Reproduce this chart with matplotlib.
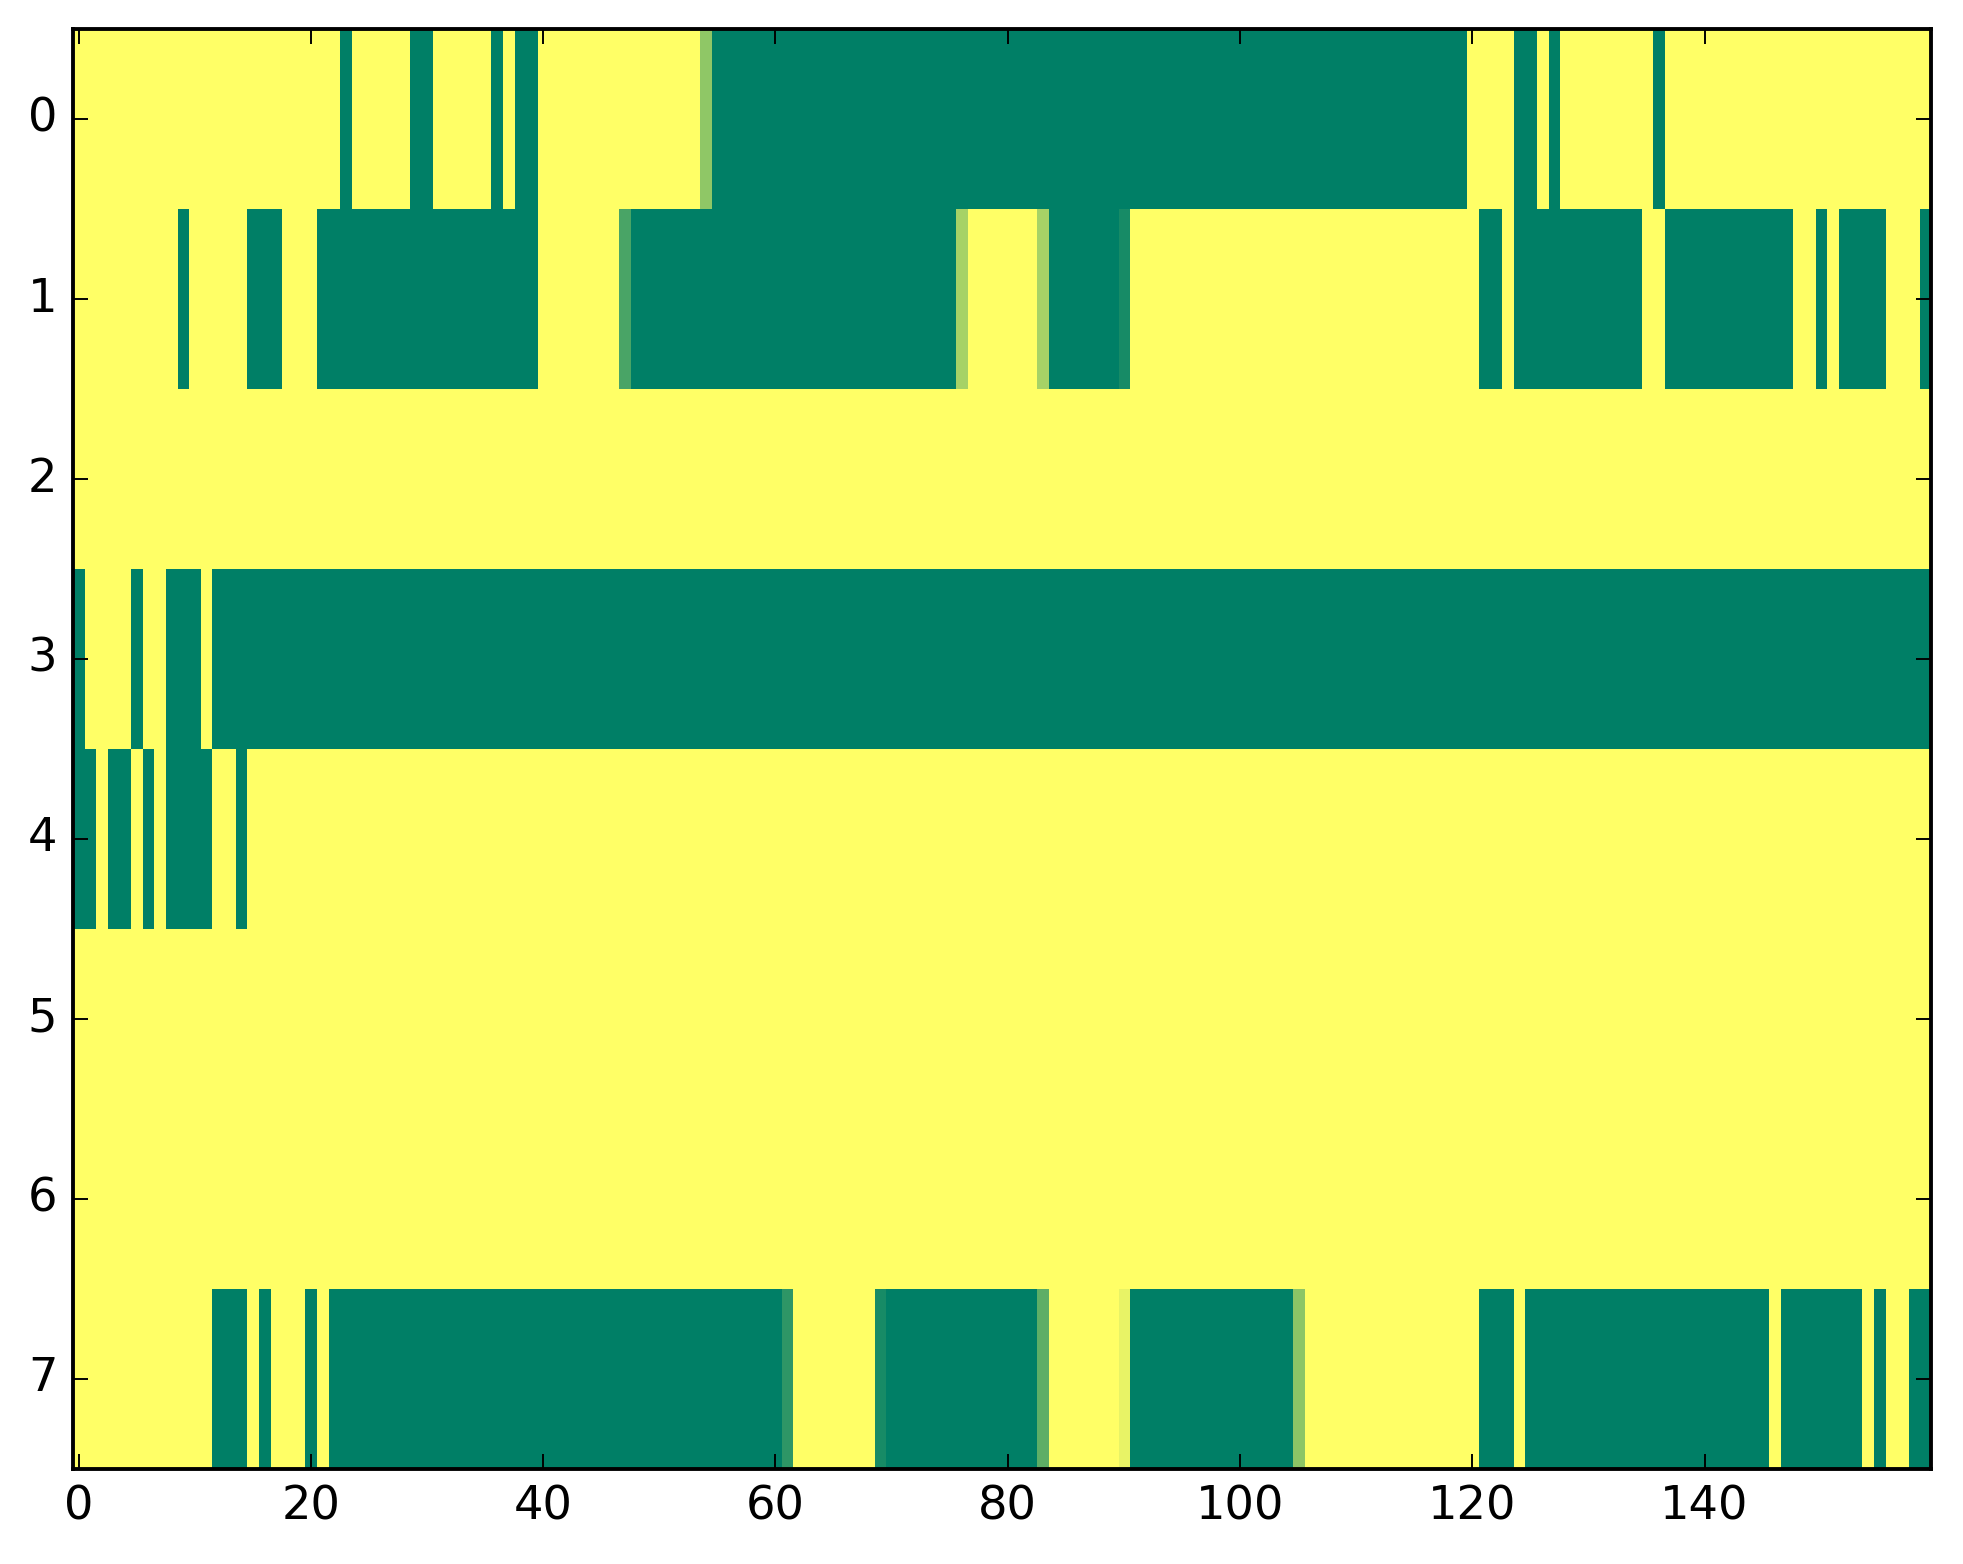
import matplotlib
matplotlib.use('Agg')
import matplotlib.pyplot as plt
import numpy as np

# one list per row, 160 cells each (1 = yellow, 0 = green)
row0 = [1, 1, 1, 1, 1, 1, 1, 1, 1, 1, 1, 1, 1, 1, 1, 1, 1, 1, 1, 1,
        1, 1, 1, 0, 1, 1, 1, 1, 1, 0, 0, 1, 1, 1, 1, 1, 0, 1, 0, 0,
        1, 1, 1, 1, 1, 1, 1, 1, 1, 1, 1, 1, 1, 1, 0.56, 0, 0, 0, 0, 0,
        0, 0, 0, 0, 0, 0, 0, 0, 0, 0, 0, 0, 0, 0, 0, 0, 0, 0, 0, 0,
        0, 0, 0, 0, 0, 0, 0, 0, 0, 0, 0, 0, 0, 0, 0, 0, 0, 0, 0, 0,
        0, 0, 0, 0, 0, 0, 0, 0, 0, 0, 0, 0, 0, 0, 0, 0, 0, 0, 0, 0,
        1, 1, 1, 1, 0, 0, 1, 0, 1, 1, 1, 1, 1, 1, 1, 1, 0, 1, 1, 1,
        1, 1, 1, 1, 1, 1, 1, 1, 1, 1, 1, 1, 1, 1, 1, 1, 1, 1, 1, 1]

row1 = [1, 1, 1, 1, 1, 1, 1, 1, 1, 0, 1, 1, 1, 1, 1, 0, 0, 0, 1, 1,
        1, 0, 0, 0, 0, 0, 0, 0, 0, 0, 0, 0, 0, 0, 0, 0, 0, 0, 0, 0,
        1, 1, 1, 1, 1, 1, 1, 0.29, 0, 0, 0, 0, 0, 0, 0, 0, 0, 0, 0, 0,
        0, 0, 0, 0, 0, 0, 0, 0, 0, 0, 0, 0, 0, 0, 0, 0, 0.65, 1, 1, 1,
        1, 1, 1, 0.65, 0, 0, 0, 0, 0, 0, 0.09, 1, 1, 1, 1, 1, 1, 1, 1, 1,
        1, 1, 1, 1, 1, 1, 1, 1, 1, 1, 1, 1, 1, 1, 1, 1, 1, 1, 1, 1,
        1, 0, 0, 1, 0, 0, 0, 0, 0, 0, 0, 0, 0, 0, 0, 1, 1, 0, 0, 0,
        0, 0, 0, 0, 0, 0, 0, 0, 1, 1, 0, 1, 0, 0, 0, 0, 1, 1, 1, 0]

row2 = [1, 1, 1, 1, 1, 1, 1, 1, 1, 1, 1, 1, 1, 1, 1, 1, 1, 1, 1, 1,
        1, 1, 1, 1, 1, 1, 1, 1, 1, 1, 1, 1, 1, 1, 1, 1, 1, 1, 1, 1,
        1, 1, 1, 1, 1, 1, 1, 1, 1, 1, 1, 1, 1, 1, 1, 1, 1, 1, 1, 1,
        1, 1, 1, 1, 1, 1, 1, 1, 1, 1, 1, 1, 1, 1, 1, 1, 1, 1, 1, 1,
        1, 1, 1, 1, 1, 1, 1, 1, 1, 1, 1, 1, 1, 1, 1, 1, 1, 1, 1, 1,
        1, 1, 1, 1, 1, 1, 1, 1, 1, 1, 1, 1, 1, 1, 1, 1, 1, 1, 1, 1,
        1, 1, 1, 1, 1, 1, 1, 1, 1, 1, 1, 1, 1, 1, 1, 1, 1, 1, 1, 1,
        1, 1, 1, 1, 1, 1, 1, 1, 1, 1, 1, 1, 1, 1, 1, 1, 1, 1, 1, 1]

row3 = [0, 1, 1, 1, 1, 0, 1, 1, 0, 0, 0, 1, 0, 0, 0, 0, 0, 0, 0, 0,
        0, 0, 0, 0, 0, 0, 0, 0, 0, 0, 0, 0, 0, 0, 0, 0, 0, 0, 0, 0,
        0, 0, 0, 0, 0, 0, 0, 0, 0, 0, 0, 0, 0, 0, 0, 0, 0, 0, 0, 0,
        0, 0, 0, 0, 0, 0, 0, 0, 0, 0, 0, 0, 0, 0, 0, 0, 0, 0, 0, 0,
        0, 0, 0, 0, 0, 0, 0, 0, 0, 0, 0, 0, 0, 0, 0, 0, 0, 0, 0, 0,
        0, 0, 0, 0, 0, 0, 0, 0, 0, 0, 0, 0, 0, 0, 0, 0, 0, 0, 0, 0,
        0, 0, 0, 0, 0, 0, 0, 0, 0, 0, 0, 0, 0, 0, 0, 0, 0, 0, 0, 0,
        0, 0, 0, 0, 0, 0, 0, 0, 0, 0, 0, 0, 0, 0, 0, 0, 0, 0, 0, 0]

row4 = [0, 0, 1, 0, 0, 1, 0, 1, 0, 0, 0, 0, 1, 1, 0, 1, 1, 1, 1, 1,
        1, 1, 1, 1, 1, 1, 1, 1, 1, 1, 1, 1, 1, 1, 1, 1, 1, 1, 1, 1,
        1, 1, 1, 1, 1, 1, 1, 1, 1, 1, 1, 1, 1, 1, 1, 1, 1, 1, 1, 1,
        1, 1, 1, 1, 1, 1, 1, 1, 1, 1, 1, 1, 1, 1, 1, 1, 1, 1, 1, 1,
        1, 1, 1, 1, 1, 1, 1, 1, 1, 1, 1, 1, 1, 1, 1, 1, 1, 1, 1, 1,
        1, 1, 1, 1, 1, 1, 1, 1, 1, 1, 1, 1, 1, 1, 1, 1, 1, 1, 1, 1,
        1, 1, 1, 1, 1, 1, 1, 1, 1, 1, 1, 1, 1, 1, 1, 1, 1, 1, 1, 1,
        1, 1, 1, 1, 1, 1, 1, 1, 1, 1, 1, 1, 1, 1, 1, 1, 1, 1, 1, 1]

row5 = list(row2)
row6 = list(row2)

row7 = [1, 1, 1, 1, 1, 1, 1, 1, 1, 1, 1, 1, 0, 0, 0, 1, 0, 1, 1, 1,
        0, 1, 0, 0, 0, 0, 0, 0, 0, 0, 0, 0, 0, 0, 0, 0, 0, 0, 0, 0,
        0, 0, 0, 0, 0, 0, 0, 0, 0, 0, 0, 0, 0, 0, 0, 0, 0, 0, 0, 0,
        0, 0.18, 1, 1, 1, 1, 1, 1, 1, 0.09, 0, 0, 0, 0, 0, 0, 0, 0, 0, 0,
        0, 0, 0, 0.37, 1, 1, 1, 1, 1, 1, 0.91, 0, 0, 0, 0, 0, 0, 0, 0, 0,
        0, 0, 0, 0, 0, 0.55, 1, 1, 1, 1, 1, 1, 1, 1, 1, 1, 1, 1, 1, 1,
        1, 0, 0, 0, 1, 0, 0, 0, 0, 0, 0, 0, 0, 0, 0, 0, 0, 0, 0, 0,
        0, 0, 0, 0, 0, 0, 1, 0, 0, 0, 0, 0, 0, 0, 1, 0, 1, 1, 0, 0]

grid = np.array([row0, row1, row2, row3, row4, row5, row6, row7], dtype=float)

plt.style.use('classic')

dpi = 278
fig = plt.figure(figsize=(1963 / dpi, 1564 / dpi), dpi=dpi, facecolor='white')
ax = fig.add_axes([0.0371, 0.0610, 0.9466, 0.9203])

ax.imshow(grid, cmap='summer', vmin=0, vmax=1, aspect='auto',
          interpolation='nearest')

ax.set_xticks([0, 20, 40, 60, 80, 100, 120, 140])
ax.set_yticks(range(8))

fig.savefig('out.png', dpi=dpi, facecolor='white')
